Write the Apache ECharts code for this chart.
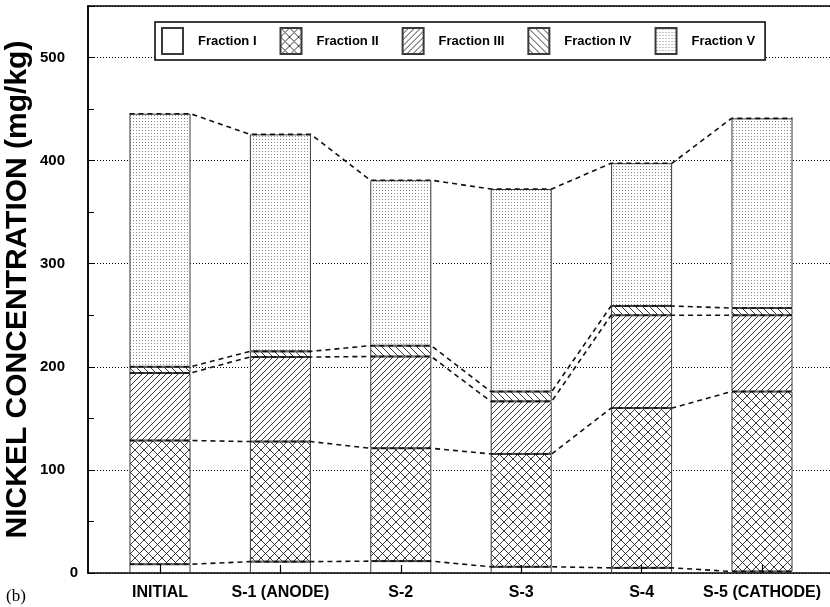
<!DOCTYPE html>
<html>
<head>
<meta charset="utf-8">
<script src="https://cdn.jsdelivr.net/npm/echarts@6/dist/echarts.min.js"></script>
<style>
  html, body { margin: 0; padding: 0; background: #fff; }
  #chart { width: 830px; height: 607px; }
</style>
</head>
<body>
<div id="chart"></div>
<script>
// Nickel fractions per sample (mg/kg), stacked from Fraction I upward
const categories = ['INITIAL', 'S-1 (ANODE)', 'S-2', 'S-3', 'S-4', 'S-5 (CATHODE)'];
const fractionNames = ['Fraction I', 'Fraction II', 'Fraction III', 'Fraction IV', 'Fraction V'];
const fractionI   = [8.5, 11, 11.5, 6, 5, 1.5];
const fractionII  = [120, 116.5, 109.5, 109.5, 155, 174.5];
const fractionIII = [65.5, 82, 89, 51, 90, 74];
const fractionIV  = [6, 5.5, 10.5, 9.5, 9, 7];
const fractionV   = [245.5, 210.5, 160.5, 196.5, 138.5, 184];
const yTicks = { min: 0, max: 550, interval: 100 };

const FONT = '"Liberation Sans", Arial, Helvetica, sans-serif';
const BAR_FRACTION = 0.507;            // bar width as share of a category band
const HALF = BAR_FRACTION / 2;

// Hatch fills drawn into small repeating tiles
function tile(size, draw) {
  const c = document.createElement('canvas');
  c.width = size; c.height = size;
  const ctx = c.getContext('2d');
  ctx.fillStyle = '#fff';
  ctx.fillRect(0, 0, size, size);
  draw(ctx, size);
  return { image: c, repeat: 'repeat' };
}
function strokeSegs(ctx, segs, w, col) {
  ctx.strokeStyle = col; ctx.lineWidth = w;
  ctx.beginPath();
  segs.forEach(s => { ctx.moveTo(s[0], s[1]); ctx.lineTo(s[2], s[3]); });
  ctx.stroke();
}
const fills = [
  '#ffffff',
  tile(9, (ctx, n) => strokeSegs(ctx, [[0, 0, n, n], [n, 0, 0, n]], 0.9, '#222')),
  tile(6, (ctx, n) => strokeSegs(ctx, [[0, n, n, 0], [-1, 1, 1, -1], [n - 1, n + 1, n + 1, n - 1]], 0.9, '#222')),
  tile(7, (ctx, n) => strokeSegs(ctx, [[0, 0, n, n], [-1, n - 1, 1, n + 1], [n - 1, -1, n + 1, 1]], 0.9, '#222')),
  tile(3, (ctx) => { ctx.fillStyle = '#8a8a8a'; ctx.fillRect(1, 1, 1, 1); })
];

const stacks = [fractionI, fractionII, fractionIII, fractionIV, fractionV];

const barSeries = stacks.map((vals, k) => ({
  name: fractionNames[k],
  type: 'bar',
  stack: 'total',
  xAxisIndex: 1,
  yAxisIndex: 1,
  barWidth: (BAR_FRACTION * 100) + '%',
  data: vals,
  itemStyle: { color: fills[k], borderColor: '#3a3a3a', borderWidth: 1 },
  emphasis: { disabled: true },
  z: 2
}));

// Dashed connectors that follow the top of each fraction from bar to bar
const running = categories.map(() => 0);
const connectorSeries = stacks.map((vals, k) => {
  const pts = [];
  vals.forEach((v, i) => {
    running[i] += v;
    pts.push([i - HALF, running[i]], [i + HALF, running[i]]);
  });
  return {
    name: 'level-' + (k + 1),
    type: 'line',
    xAxisIndex: 2,
    yAxisIndex: 1,
    data: pts,
    symbol: 'none',
    silent: true,
    lineStyle: { color: '#111', width: 1.6, type: [5, 4] },
    z: 5
  };
});

const chart = echarts.init(document.getElementById('chart'), null, { renderer: 'canvas' });
chart.setOption({
  animation: false,
  backgroundColor: '#fff',
  grid: [
    { left: 88, top: 6, right: -4, bottom: 34, outerBoundsMode: 'none', containLabel: false,
      show: true, borderColor: '#000', borderWidth: 1.5, backgroundColor: 'transparent' },
    { left: 99.8, top: 6, right: 7.8, bottom: 34, outerBoundsMode: 'none', containLabel: false }
  ],
  legend: {
    data: fractionNames,
    left: 155, top: 22,
    orient: 'horizontal',
    padding: [5, 10, 5, 6],
    itemWidth: 21, itemHeight: 26,
    itemGap: 23,
    borderColor: '#000', borderWidth: 1.5,
    backgroundColor: '#fff',
    selectedMode: false,
    icon: 'rect',
    textStyle: { fontFamily: FONT, fontWeight: 'bold', fontSize: 13, color: '#000', padding: [0, 0, 0, 10] }
  },
  xAxis: [
    { gridIndex: 0, type: 'value', min: 0, max: 1, show: false },
    {
      gridIndex: 1, type: 'category', data: categories, boundaryGap: true, z: 10,
      axisLine: { show: false },
      axisTick: { show: true, inside: true, alignWithLabel: true, length: 8, lineStyle: { color: '#000', width: 1.2 } },
      axisLabel: { fontFamily: FONT, fontWeight: 'bold', fontSize: 16, color: '#000', margin: 12, interval: 0 },
      splitLine: { show: false }
    },
    { gridIndex: 1, type: 'value', min: -0.5, max: 5.5, show: false }
  ],
  yAxis: [
    {
      gridIndex: 0, type: 'value', min: yTicks.min, max: yTicks.max, interval: yTicks.interval,
      name: 'NICKEL CONCENTRATION (mg/kg)',
      nameLocation: 'middle', nameGap: 55, nameRotate: 90, nameMoveOverlap: false,
      nameTextStyle: { fontFamily: FONT, fontWeight: 'bold', fontSize: 30, color: '#000' },
      axisLine: { show: true, lineStyle: { color: '#000', width: 1.5 } },
      axisTick: { show: true, inside: true, length: 6, lineStyle: { color: '#000' } },
      minorTick: { show: true, splitNumber: 2, length: 6, lineStyle: { color: '#000' } },
      splitLine: { show: true, lineStyle: { color: '#000', width: 1, type: [1, 2] } },
      axisLabel: {
        margin: 10,
        formatter: v => (v > 500 ? '' : (v === 0 ? '{z|0}' : '{n|' + v + '}')),
        rich: {
          z: { fontFamily: FONT, fontWeight: 'bold', fontSize: 15, color: '#000' },
          n: { fontFamily: FONT, fontWeight: 'bold', fontSize: 15, color: '#000', padding: [0, 13, 0, 0] }
        }
      }
    },
    { gridIndex: 1, type: 'value', min: yTicks.min, max: yTicks.max, show: false }
  ],
  graphic: [
    { type: 'text', left: 6, top: 588, style: { text: '(b)', font: '17px "Liberation Serif", "Times New Roman", serif', fill: '#000' } }
  ],
  series: barSeries.concat(connectorSeries)
});
</script>
</body>
</html>
